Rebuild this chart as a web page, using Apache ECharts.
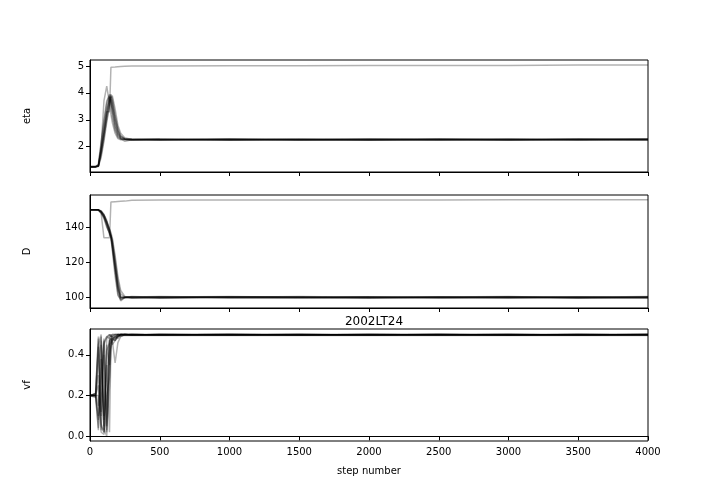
<!DOCTYPE html>
<html>
<head>
<meta charset="utf-8">
<script src="https://cdn.jsdelivr.net/npm/echarts@6/dist/echarts.min.js"></script>
<style>html,body{margin:0;padding:0;background:#fff}#c{width:720px;height:504px}</style>
</head>
<body>
<div id="c"></div>
<script>
const steps = [0, 40, 60, 80, 100, 120, 140, 150, 160, 180, 200, 220, 250, 300, 500, 1000, 1500, 2000, 2500, 3000, 3500, 4000];
const xTicks = [0, 500, 1000, 1500, 2000, 2500, 3000, 3500, 4000];
const etaTicks = [2, 3, 4, 5];
const dTicks = [100, 120, 140];
const vfTicks = [0, 0.2, 0.4];
const panelNames = ['eta', 'D', 'vf'];
const titleText = '2002LT24';
const xLabel = 'step number';

const etaChains = [
  [1.25,1.25,1.28,1.9,2.6,3.3,3.85,3.9,3.4,2.8,2.45,2.32,2.28,2.27,2.25,2.29,2.27,2.24,2.27,2.29,2.26,2.27],
  [1.26,1.26,1.35,2.2,3.0,3.7,3.9,3.6,3.1,2.6,2.35,2.28,2.27,2.25,2.28,2.25,2.29,2.27,2.24,2.27,2.25,2.28],
  [1.25,1.26,1.27,1.7,2.3,3.1,3.7,3.85,3.7,3.0,2.6,2.4,2.3,2.29,2.27,2.24,2.28,2.27,2.29,2.25,2.27,2.29],
  [1.25,1.25,1.3,2.0,3.7,4.25,3.6,3.2,2.9,2.5,2.3,2.26,2.27,2.27,2.29,2.27,2.25,2.28,2.27,2.24,2.29,2.26],
  [1.26,1.26,1.29,1.8,2.5,3.2,3.75,3.95,3.8,3.2,2.7,2.4,2.28,2.24,2.26,2.28,2.26,2.29,2.28,2.27,2.24,2.25],
  [1.25,1.25,1.26,1.6,2.2,2.9,3.5,3.8,3.9,3.4,2.8,2.5,2.32,2.28,2.24,2.29,2.27,2.25,2.26,2.28,2.28,2.24],
  [1.26,1.26,1.32,2.1,2.9,3.6,3.95,3.7,3.3,2.7,2.4,2.3,2.27,2.28,2.27,2.26,2.24,2.27,2.29,2.28,2.27,2.29],
  [1.25,1.25,1.28,1.9,2.7,3.4,3.8,3.9,3.5,2.9,2.5,2.35,2.28,2.26,2.28,2.25,2.27,2.28,2.25,2.26,2.29,2.28],
  [1.25,1.26,1.27,1.75,2.4,3.0,3.6,3.75,3.6,3.1,2.6,2.3,2.2,2.26,2.27,2.28,2.26,2.24,2.27,2.25,2.27,2.27],
  [1.25,1.25,1.3,1.9,2.5,3.3,3.3,4.95,4.95,4.96,4.97,4.98,4.99,5.0,5.0,5.01,5.01,5.02,5.02,5.02,5.03,5.03]
];
const dChains = [
  [150,150,150,149,147,143,138,135,130,118,107,100,100,100.4,99.6,100.3,100,99.5,100.2,100.5,99.8,100],
  [150,150,150,148.5,146,141,136,134,128,115,104,99.5,100.2,100,99.5,100.4,100,99.7,100,100.3,99.6,99.9],
  [150,150,149.8,148,145,140,137,136,133,122,110,102,100,99.6,100.3,100,100.5,100,99.6,100,100.4,100.2],
  [150,150,150,149.5,147.5,144,139,136,132,120,108,100,99.7,100.4,100,99.5,100.1,100.4,100,99.5,100,100.5],
  [150,150,150,149,146.5,142,137,135,129,116,102,98,100,100.2,100.5,100,99.6,100,100.4,100,99.5,100],
  [150,150,150,149.2,147,143,139,137,134,124,112,104,100.5,99.8,99.6,100.2,100.4,100,99.7,100.4,100,99.6],
  [150,150,149.9,148.8,146,142.5,138,134,127,112,101,99,99.8,100,100.4,99.7,99.5,100.3,100,99.6,100.4,100],
  [150,150,150,149,147,143.5,138.5,135.5,131,119,106,100,100,100.5,100,100.2,100,99.5,100.4,100,100.2,99.5],
  [150,150,150,148.5,145.5,141,136.5,134.5,130,117,105,98.5,100,99.5,100.2,100.5,100,100.2,99.6,100,99.8,100.4],
  [150,150,150,148,134,134,134,154.5,154.6,154.7,154.8,154.9,155,155.5,155.6,155.6,155.7,155.7,155.7,155.8,155.8,155.8]
];
const vfChains = [
  [0.2,0.2,0.03,0.45,0.1,0.48,0.5,0.49,0.5,0.5,0.5,0.498,0.5,0.497,0.5,0.498,0.5,0.497,0.5,0.498,0.5,0.497],
  [0.2,0.21,0.48,0.05,0.02,0.3,0.47,0.48,0.49,0.5,0.5,0.5,0.497,0.5,0.498,0.5,0.497,0.5,0.498,0.5,0.497,0.5],
  [0.2,0.2,0.2,0.02,0.01,0.1,0.45,0.46,0.48,0.47,0.49,0.5,0.5,0.498,0.5,0.496,0.5,0.498,0.5,0.496,0.5,0.498],
  [0.2,0.19,0.35,0.49,0.03,0.2,0.29,0.44,0.47,0.48,0.49,0.5,0.5,0.5,0.497,0.5,0.498,0.5,0.497,0.5,0.498,0.5],
  [0.2,0.2,0.1,0.3,0.48,0.02,0.47,0.48,0.47,0.36,0.46,0.49,0.5,0.497,0.5,0.5,0.496,0.5,0.5,0.497,0.5,0.5],
  [0.2,0.2,0.45,0.5,0.04,0.0,0.4,0.45,0.48,0.49,0.49,0.5,0.5,0.5,0.498,0.5,0.5,0.497,0.5,0.5,0.496,0.5],
  [0.2,0.2,0.08,0.2,0.46,0.49,0.48,0.49,0.5,0.5,0.5,0.5,0.498,0.5,0.5,0.497,0.5,0.5,0.498,0.5,0.5,0.497],
  [0.2,0.21,0.49,0.03,0.4,0.05,0.49,0.5,0.48,0.49,0.5,0.5,0.5,0.496,0.5,0.5,0.498,0.5,0.5,0.496,0.5,0.5],
  [0.2,0.2,0.25,0.06,0.02,0.45,0.35,0.47,0.49,0.48,0.5,0.5,0.5,0.5,0.497,0.5,0.5,0.496,0.5,0.5,0.497,0.5],
  [0.2,0.2,0.3,0.1,0.45,0.49,0.5,0.49,0.49,0.495,0.495,0.495,0.495,0.495,0.495,0.495,0.495,0.495,0.495,0.495,0.495,0.495],
  [0.2,0.2,0.04,0.38,0.05,0.42,0.46,0.48,0.45,0.47,0.49,0.5,0.5,0.5,0.498,0.5,0.5,0.497,0.5,0.5,0.498,0.5],
  [0.2,0.2,0.44,0.12,0.47,0.03,0.25,0.43,0.47,0.49,0.48,0.5,0.5,0.497,0.5,0.5,0.498,0.5,0.5,0.497,0.5,0.5],
  [0.2,0.21,0.15,0.47,0.08,0.35,0.02,0.46,0.48,0.47,0.5,0.49,0.5,0.5,0.5,0.498,0.5,0.5,0.497,0.5,0.5,0.498]
];

const font = 'DejaVu Sans';
const grids = [
  {left: 90, top: 60, width: 558, height: 112},
  {left: 90, top: 195, width: 558, height: 113},
  {left: 90, top: 329, width: 558, height: 112}
].map(g => Object.assign(g, {show: true, borderColor: '#000', borderWidth: 1, backgroundColor: '#fff', containLabel: false}));

const yRanges = [
  {min: 1.06, max: 5.22, ticks: etaTicks, fmt: v => String(v)},
  {min: 93.9, max: 158.5, ticks: dTicks, fmt: v => String(v)},
  {min: -0.023, max: 0.527, ticks: vfTicks, fmt: v => Number(v).toFixed(1)}
];

const xAxes = [0, 1, 2].map(i => ({
  type: 'value', gridIndex: i, min: 0, max: 4000,
  axisLine: {show: true, lineStyle: {color: '#000', width: 1}},
  axisTick: {show: true, length: 4, customValues: xTicks, lineStyle: {color: '#000'}},
  axisLabel: {show: i === 2, customValues: xTicks, formatter: v => String(v), color: '#000', fontFamily: font, fontSize: 10, margin: 6},
  splitLine: {show: false},
  name: i === 2 ? xLabel : '', nameLocation: 'middle', nameGap: 25,
  nameTextStyle: {color: '#000', fontFamily: font, fontSize: 10}
}));

const yAxes = [0, 1, 2].map(i => ({
  type: 'value', gridIndex: i, min: yRanges[i].min, max: yRanges[i].max,
  axisLine: {show: true, lineStyle: {color: '#000', width: 1}},
  axisTick: {show: true, length: 4, customValues: yRanges[i].ticks, lineStyle: {color: '#000'}},
  axisLabel: {customValues: yRanges[i].ticks, formatter: yRanges[i].fmt, color: '#000', fontFamily: font, fontSize: 10, margin: 6},
  splitLine: {show: false},
  name: panelNames[i], nameLocation: 'middle', nameGap: 58, nameRotate: 90,
  nameTextStyle: {color: '#000', fontFamily: font, fontSize: 10}
}));

const series = [];
[etaChains, dChains, vfChains].forEach((chains, gi) => {
  chains.forEach(vals => {
    series.push({
      type: 'line', xAxisIndex: gi, yAxisIndex: gi, showSymbol: false, symbol: 'none',
      silent: true, animation: false,
      lineStyle: {color: 'rgba(0,0,0,0.3)', width: 1.5},
      data: steps.map((s, k) => [s, vals[k]])
    });
  });
});

const chart = echarts.init(document.getElementById('c'), null, {renderer: 'canvas'});
chart.setOption({
  backgroundColor: '#fff',
  animation: false,
  title: {text: titleText, left: 369, top: 311, textAlign: 'center',
    textStyle: {color: '#000', fontFamily: font, fontSize: 12, fontWeight: 'normal'}},
  grid: grids,
  xAxis: xAxes,
  yAxis: yAxes,
  series: series
});
</script>
</body>
</html>
